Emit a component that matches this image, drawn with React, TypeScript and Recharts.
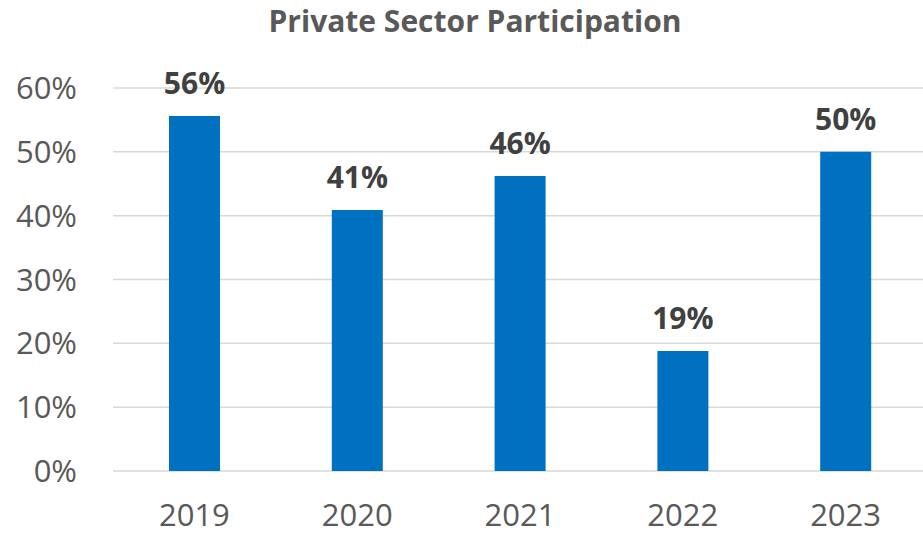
import { BarChart, Bar, XAxis, YAxis, CartesianGrid, LabelList } from "recharts";

const years = ["2019", "2020", "2021", "2022", "2023"];
const participation = [55.6, 40.9, 46.2, 18.8, 50.0];
const yTicks = [0, 10, 20, 30, 40, 50, 60];

const data = years.map((year, i) => ({ year, value: participation[i] }));

const FONT = "'Open Sans', sans-serif";

function XTick(props: any) {
  const { x, y, payload } = props;
  return (
    <text x={x} y={y + 47} textAnchor="middle" fill="#595959" fontSize={31} fontFamily={FONT}>
      {payload.value}
    </text>
  );
}

function YTick(props: any) {
  const { x, y, payload } = props;
  return (
    <text x={x + 6} y={y + 11} textAnchor="end" fill="#595959" fontSize={31} fontFamily={FONT}>
      {payload.value}%
    </text>
  );
}

function TopLabel(props: any) {
  const { x, y, width, value } = props;
  return (
    <text
      x={x + width / 2}
      y={y - 22}
      textAnchor="middle"
      fill="#404040"
      fontSize={30}
      fontWeight={700}
      fontFamily={FONT}
    >
      {Math.round(value)}%
    </text>
  );
}

export default function App() {
  return (
    <div style={{ position: "absolute", left: 0, top: 0, width: 923, height: 534, overflow: "hidden", background: "#fff" }}>
      <div
        style={{
          position: "absolute",
          left: 0,
          top: 1,
          width: 950,
          textAlign: "center",
          fontFamily: FONT,
          fontWeight: 700,
          fontSize: 30,
          lineHeight: "40px",
          color: "#595959",
          zIndex: 1,
        }}
      >
        Private Sector Participation
      </div>
      <BarChart width={927} height={534} data={data} margin={{ top: 88, right: 0, bottom: 0, left: 0 }}>
        <CartesianGrid vertical={false} stroke="#D9D9D9" strokeWidth={1.5} />
        <XAxis dataKey="year" height={63} axisLine={false} tickLine={false} tick={<XTick />} interval={0} />
        <YAxis
          width={113}
          domain={[0, 60]}
          ticks={yTicks}
          axisLine={false}
          tickLine={false}
          tick={<YTick />}
          tickMargin={36}
        />
        <Bar dataKey="value" fill="#0070C0" barSize={51} isAnimationActive={false}>
          <LabelList dataKey="value" content={<TopLabel />} />
        </Bar>
      </BarChart>
    </div>
  );
}
